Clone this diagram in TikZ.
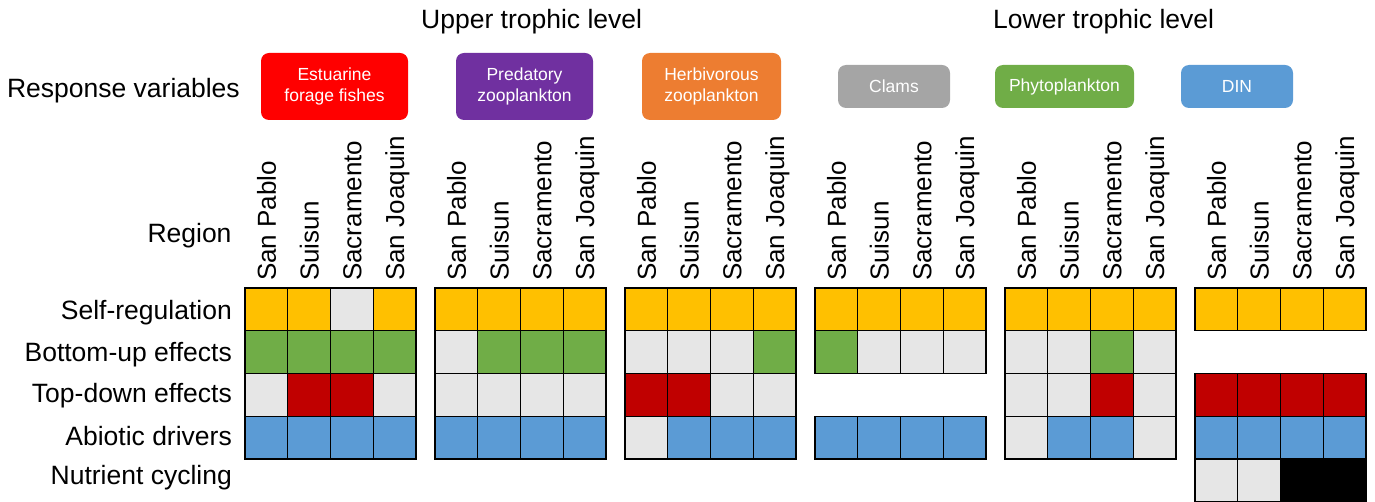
\documentclass[tikz,border=0pt]{standalone}
\usepackage{fontspec}
\setmainfont{Liberation Sans}
\colorlet{FishBox}{red}
\definecolor{PredBox}{HTML}{7030A0}
\definecolor{HerbBox}{HTML}{ED7D31}
\definecolor{ClamBox}{HTML}{A5A5A5}
\definecolor{PhytoBox}{HTML}{70AD47}
\definecolor{DinBox}{HTML}{5B9BD5}
\definecolor{CellSelf}{HTML}{FFC000}
\definecolor{CellUp}{HTML}{70AD47}
\definecolor{CellDown}{HTML}{C00000}
\definecolor{CellAbio}{HTML}{5B9BD5}
\definecolor{CellNone}{HTML}{E6E6E6}
\colorlet{CellCycle}{black}
\usetikzlibrary{positioning}

% one row of four cells: block index, row index, fill colours
\newcommand{\cellrow}[3]{%
  \foreach \c [count=\i from 0] in {#3}
    \draw [cell, fill=\c] ({245+190*#1+42.75*\i},{288+42.75*#2}) rectangle ++(42.75,42.75);}

\begin{document}
\begin{tikzpicture}[x=1pt, y=-1pt,
    biglabel/.style={font=\fontsize{26.5}{30}\selectfont, inner sep=0pt},
    regionlabel/.style={font=\fontsize{26}{30}\selectfont, inner sep=0pt, rotate=90, anchor=base west},
    respbox/.style={rounded corners=8pt, text=white, align=center, inner sep=0pt,
        font=\fontsize{17.5}{21.5}\selectfont},
    cell/.style={draw=black, line width=1.2pt}]

    \useasboundingbox (0,0) rectangle (1375,502);

    % Titles
    \node [biglabel, anchor=base west] (upper) at (421,28.3) {Upper trophic level};
    \node [biglabel, anchor=base west] (lower) at (993,28.3) {Lower trophic level};

    % Response variables
    \node [biglabel, anchor=base east] (resp) at (240,97.3) {Response variables};
    \node [respbox, fill=FishBox, minimum width=147pt, minimum height=67pt] (fish) at (334.5,86.5) {Estuarine\\forage fishes};
    \node [respbox, fill=PredBox, minimum width=137pt, minimum height=67pt] (pred) at (524.5,86.5) {Predatory\\zooplankton};
    \node [respbox, fill=HerbBox, minimum width=139pt, minimum height=67pt] (herb) at (711.5,86.5) {Herbivorous\\zooplankton};
    \node [respbox, fill=ClamBox, minimum width=112pt, minimum height=43pt] (clam) at (894,86.5) {Clams};
    \node [respbox, fill=PhytoBox, minimum width=139pt, minimum height=43pt] (phyto) at (1064.5,86.5) {Phytoplankton};
    \node [respbox, fill=DinBox, minimum width=112pt, minimum height=43pt] (din) at (1237,86.5) {DIN};

    % Region names over each block
    \node [biglabel, anchor=base east] (region) at (231.7,242.7) {Region};
    \foreach \k in {0,...,5} {
        \node [regionlabel] (sp-\k) at ({245+190*\k+21.4+9.5},281) {San Pablo};
        \node [regionlabel] (su-\k) at ({245+190*\k+64.1+9.5},281) {Suisun};
        \node [regionlabel] (sa-\k) at ({245+190*\k+106.9+9.5},281) {Sacramento};
        \node [regionlabel] (sj-\k) at ({245+190*\k+149.6+9.5},281) {San Joaquin};
    }

    % Row labels
    \node [biglabel, anchor=base east] (self) at (232,319.3) {Self-regulation};
    \node [biglabel, anchor=base east] (up) at (232,361) {Bottom-up effects};
    \node [biglabel, anchor=base east] (down) at (232,402.7) {Top-down effects};
    \node [biglabel, anchor=base east] (abio) at (232,445.7) {Abiotic drivers};
    \node [biglabel, anchor=base east] (cycle) at (232,484) {Nutrient cycling};

    % Estuarine forage fishes
    \cellrow{0}{0}{CellSelf,CellSelf,CellNone,CellSelf}
    \cellrow{0}{1}{CellUp,CellUp,CellUp,CellUp}
    \cellrow{0}{2}{CellNone,CellDown,CellDown,CellNone}
    \cellrow{0}{3}{CellAbio,CellAbio,CellAbio,CellAbio}

    % Predatory zooplankton
    \cellrow{1}{0}{CellSelf,CellSelf,CellSelf,CellSelf}
    \cellrow{1}{1}{CellNone,CellUp,CellUp,CellUp}
    \cellrow{1}{2}{CellNone,CellNone,CellNone,CellNone}
    \cellrow{1}{3}{CellAbio,CellAbio,CellAbio,CellAbio}

    % Herbivorous zooplankton
    \cellrow{2}{0}{CellSelf,CellSelf,CellSelf,CellSelf}
    \cellrow{2}{1}{CellNone,CellNone,CellNone,CellUp}
    \cellrow{2}{2}{CellDown,CellDown,CellNone,CellNone}
    \cellrow{2}{3}{CellNone,CellAbio,CellAbio,CellAbio}

    % Clams
    \cellrow{3}{0}{CellSelf,CellSelf,CellSelf,CellSelf}
    \cellrow{3}{1}{CellUp,CellNone,CellNone,CellNone}
    \cellrow{3}{3}{CellAbio,CellAbio,CellAbio,CellAbio}

    % Phytoplankton
    \cellrow{4}{0}{CellSelf,CellSelf,CellSelf,CellSelf}
    \cellrow{4}{1}{CellNone,CellNone,CellUp,CellNone}
    \cellrow{4}{2}{CellNone,CellNone,CellDown,CellNone}
    \cellrow{4}{3}{CellNone,CellAbio,CellAbio,CellNone}

    % DIN
    \cellrow{5}{0}{CellSelf,CellSelf,CellSelf,CellSelf}
    \cellrow{5}{2}{CellDown,CellDown,CellDown,CellDown}
    \cellrow{5}{3}{CellAbio,CellAbio,CellAbio,CellAbio}
    \cellrow{5}{4}{CellNone,CellNone,CellCycle,CellCycle}

\end{tikzpicture}
\end{document}
